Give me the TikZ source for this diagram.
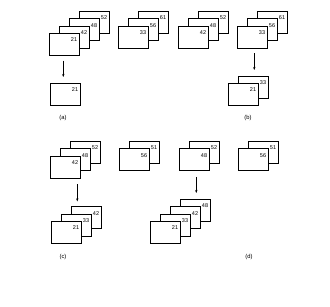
\documentclass[tikz,border=0pt]{standalone}
\usepackage{fontspec}
\setmainfont{Liberation Sans}
\usetikzlibrary{arrows.meta}
\tikzset{
  card/.style={draw, fill=white, line width=0.55pt, minimum width=30pt, minimum height=22pt, inner sep=0pt, anchor=north west},
  num/.style={font=\fontsize{5.5}{6}\selectfont, inner sep=0pt},
  captxt/.style={font=\fontsize{5.8}{6}\selectfont, inner sep=0pt},
  arr/.style={line width=0.55pt, -{Stealth[length=3pt,width=2.4pt]}}
}
\newcommand\crd[4]{\node[card] (#1) at (#2,#3) {}; \node[num] (#1l) at ([shift={(-5.5,7)}]#1.north east) {#4};}
\begin{document}
\begin{tikzpicture}[x=1pt,y=-1pt]
\useasboundingbox[fill=white] (0,0) rectangle (330,306);
% (a) top stack
\crd{a52}{79}{11}{52}
\crd{a48}{69}{18.3}{48}
\crd{a42}{59}{25.6}{42}
\crd{a21}{49}{33}{21}
% second stack top row
\crd{s61}{138}{11}{61}
\crd{s56}{128}{18.3}{56}
\crd{s33}{118}{25.6}{33}
% (b) top stacks
\crd{b52}{198}{11}{52}
\crd{b48}{188}{18.3}{48}
\crd{b42}{178}{25.6}{42}
\crd{t61}{257}{11}{61}
\crd{t56}{247}{18.3}{56}
\crd{t33}{237}{25.6}{33}
% (a) bottom
\crd{aa21}{50}{83}{21}
% (b) bottom
\crd{bb33}{238}{76}{33}
\crd{bb21}{228}{83}{21}
% row 2 top
\crd{c52}{70}{141}{52}
\crd{c48}{60}{148.3}{48}
\crd{c42}{50}{155.6}{42}
\crd{u51}{129}{141}{51}
\crd{u56}{119}{148.3}{56}
\crd{d52}{189}{141}{52}
\crd{d48}{179}{148.3}{48}
\crd{v51}{248}{141}{51}
\crd{v56}{238}{148.3}{56}
% (c) bottom
\crd{cc42}{71}{206.4}{42}
\crd{cc33}{61}{213.7}{33}
\crd{cc21}{51}{221}{21}
% (d) bottom
\crd{dd48}{180}{199}{48}
\crd{dd42}{170}{206.4}{42}
\crd{dd33}{160}{213.7}{33}
\crd{dd21}{150}{221}{21}
% arrows
\draw[arr, shorten <=5pt, shorten >=6pt] ([xshift=-1pt]a21.south) -- ([xshift=-1pt]a21.south |- aa21.north);
\draw[arr, shorten <=5pt, shorten >=6pt] ([xshift=2pt]t33.south) -- ([xshift=2pt]t33.south |- bb33.north);
\draw[arr, shorten <=6pt, shorten >=5pt] ([xshift=12pt]c42.south) -- ([xshift=12pt]c42.south |- cc42.north);
\draw[arr, shorten <=6pt, shorten >=6pt] ([xshift=2pt]d48.south) -- ([xshift=2pt]d48.south |- dd48.north);
% captions
\node[captxt] (la) at (63,118) {(a)};
\node[captxt] (lb) at (248,118) {(b)};
\node[captxt] (lc) at (63,257) {(c)};
\node[captxt] (ld) at (249,257) {(d)};
\end{tikzpicture}
\end{document}
